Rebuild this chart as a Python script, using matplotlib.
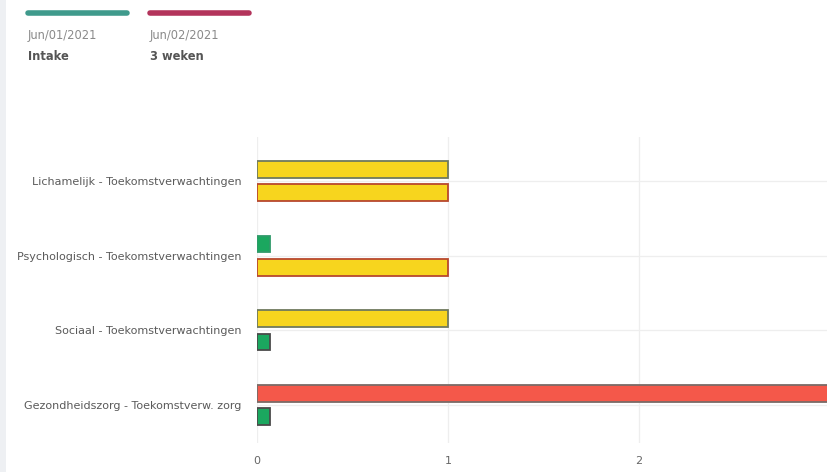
import matplotlib
matplotlib.use("Agg")
import matplotlib.pyplot as plt
from matplotlib.patches import Rectangle
import numpy as np

plt.rcParams['font.family'] = ['DejaVu Sans']

categories = [
    "Lichamelijk - Toekomstverwachtingen",
    "Psychologisch - Toekomstverwachtingen",
    "Sociaal - Toekomstverwachtingen",
    "Gezondheidszorg - Toekomstverw. zorg",
]
series_names = ["Intake", "3 weken"]
series_dates = ["Jun/01/2021", "Jun/02/2021"]
intake_values = [1.0, 0.07, 1.0, 3.0]
weken_values = [1.0, 1.0, 0.07, 0.07]
xticks = [0, 1, 2, 3]

YELLOW = "#f7d51e"
GREEN = "#1ba75f"
RED = "#f4584a"
intake_colors = [YELLOW, GREEN, YELLOW, RED]
intake_edges = ["#6f7a5e", "#2f9a6a", "#6f7a5e", "#7a6a66"]
weken_colors = [YELLOW, YELLOW, GREEN, GREEN]
weken_edges = ["#b8482e", "#b8482e", "#4a4a4a", "#4a4a4a"]
legend_colors = ["#3f9a8c", "#b3345b"]

fig = plt.figure(figsize=(8.27, 4.72), dpi=100)
fig.patch.set_facecolor("white")
fig.patches.append(Rectangle((0, 0), 6 / 827, 1, transform=fig.transFigure,
                             facecolor="#eef0f3", edgecolor="none", zorder=0))

ax = fig.add_axes([257 / 827, 1 - 443 / 472, (830 - 257) / 827, (443 - 137) / 472])
y = np.arange(len(categories))
h = 0.225
off = 0.155
ax.barh(y - off, intake_values, height=h, color=intake_colors,
        edgecolor=intake_edges, linewidth=1.3, zorder=3)
ax.barh(y + off, weken_values, height=h, color=weken_colors,
        edgecolor=weken_edges, linewidth=1.3, zorder=3)

ax.set_xlim(0, 3)
ax.set_ylim(3.507, -0.587)
ax.set_yticks(y)
ax.set_yticklabels(categories)
ax.set_xticks(xticks)
ax.set_xticklabels([str(t) for t in xticks])
ax.tick_params(axis="y", length=0, pad=11, labelsize=8.0, labelcolor="#5a5a5a")
ax.tick_params(axis="x", length=0, pad=9, labelsize=8.0, labelcolor="#666666")
for s in ax.spines.values():
    s.set_visible(False)
ax.grid(True, color="#eeeeee", linewidth=0.9, zorder=0)
ax.set_axisbelow(True)

# legend at top
lx = [28, 150]
for i in range(2):
    x0 = lx[i] / 827
    fig.add_artist(plt.Line2D([x0, (lx[i] + 99) / 827], [1 - 13 / 472] * 2,
                              transform=fig.transFigure, color=legend_colors[i],
                              linewidth=4, solid_capstyle="round"))
    fig.text(x0, 1 - 36 / 472, series_dates[i], fontsize=8.3, color="#8a8a8a",
             va="center", ha="left")
    fig.text(x0, 1 - 57 / 472, series_names[i], fontsize=8.3, color="#555555",
             fontweight="bold", va="center", ha="left")

fig.savefig("out.png", dpi=100, facecolor="white")
